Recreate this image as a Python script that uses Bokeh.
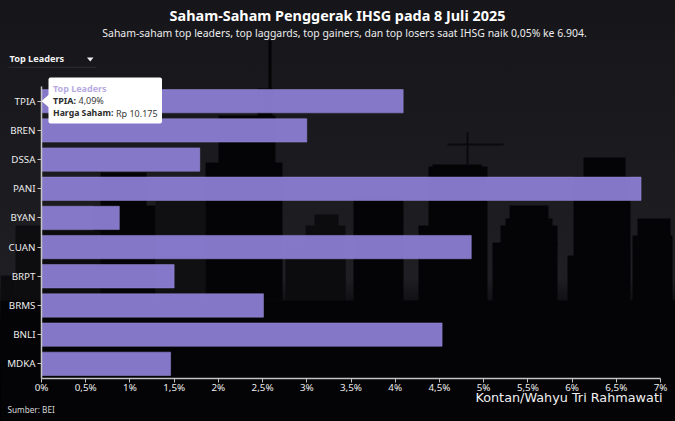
from bokeh.embed import file_html
from bokeh.resources import INLINE
from bokeh.plotting import figure
from bokeh.models import (BoxAnnotation, Label, PolyAnnotation, FixedTicker, ColumnDataSource,
                          LinearAxis, Range1d)

# ---- data ----
tickers = ["TPIA", "BREN", "DSSA", "PANI", "BYAN", "CUAN", "BRPT", "BRMS", "BNLI", "MDKA"]
changes = [4.09, 3.00, 1.79, 6.78, 0.88, 4.86, 1.50, 2.51, 4.53, 1.46]
x_ticks = [0, 0.5, 1, 1.5, 2, 2.5, 3, 3.5, 4, 4.5, 5, 5.5, 6, 6.5, 7]
x_tick_labels = ["0%", "0,5%", "1%", "1,5%", "2%", "2,5%", "3%", "3,5%", "4%", "4,5%",
                 "5%", "5,5%", "6%", "6,5%", "7%"]
title = "Saham-Saham Penggerak IHSG pada 8 Juli 2025"
subtitle = "Saham-saham top leaders, top laggards, top gainers, dan top losers saat IHSG naik 0,05% ke 6.904."

W, H = 675, 421
# plot geometry in pixels: the frame fills the canvas so texts may sit anywhere on it
X0_PX, PX_PER_PCT = 41.0, 88.43
Y0_PX, PX_PER_ROW = 100.7, 29.18

positions = list(range(len(tickers)))

p = figure(width=W, height=H, output_backend="svg", toolbar_location=None,
           x_range=Range1d(-X0_PX / PX_PER_PCT, (W - X0_PX) / PX_PER_PCT),
           y_range=Range1d((H - Y0_PX) / PX_PER_ROW, -Y0_PX / PX_PER_ROW),
           x_axis_type=None, y_axis_type=None,
           min_border=0, min_border_left=0, min_border_right=0, min_border_top=0, min_border_bottom=0)
p.background_fill_color = None
p.border_fill_color = None
p.outline_line_color = None
p.grid.visible = False

AX = "#c4c4c4"
xaxis = LinearAxis(fixed_location=positions[-1] + 0.5, bounds=(x_ticks[0], x_ticks[-1]),
                   ticker=FixedTicker(ticks=x_ticks),
                   major_label_overrides={t: l for t, l in zip(x_ticks, x_tick_labels)})
yaxis = LinearAxis(fixed_location=0, bounds=(positions[0] - 0.5, positions[-1] + 0.5),
                   ticker=FixedTicker(ticks=positions),
                   major_label_overrides={i: t for i, t in zip(positions, tickers)})
for ax in (xaxis, yaxis):
    ax.axis_line_color = AX
    ax.axis_line_width = 1.5
    ax.major_tick_line_color = AX
    ax.major_tick_in = 0
    ax.major_tick_out = 4
    ax.minor_tick_line_color = None
    ax.major_label_text_color = "#ececec"
    ax.major_label_text_font = "Noto Sans"
    ax.major_label_text_font_size = "9.8px"
xaxis.major_label_standoff = -1
yaxis.major_label_standoff = 2
p.add_layout(xaxis, "below")
p.add_layout(yaxis, "left")

# ---- skyline backdrop (decorative, pixels: x0, top, x1, bottom, colour) ----
DK = "#040406"
MD = "#0c0c0f"
skyline = [
    (155, 200, 205, 300, "#101013"),
    (285, 240, 345, 340, MD),
    (305, 225, 345, 300, MD),
    (314, 214, 338, 240, MD),
    (15, 225, 40, 300, "#0d0d10"),
    (0, 275, 15, 340, MD),
    (353, 195, 403, 340, DK),
    (418, 225, 430, 340, DK),
    (428, 166, 487, 340, DK),
    (432, 164, 481, 170, DK),
    (466, 132, 468, 165, "#0a0a0d"),
    (447, 143, 503, 145, "#0a0a0d"),
    (492, 242, 557, 340, DK),
    (500, 225, 557, 245, DK),
    (505, 218, 552, 226, DK),
    (509, 205, 548, 219, DK),
    (567, 255, 630, 340, DK),
    (573, 176, 630, 256, DK),
    (583, 157, 625, 177, DK),
    (632, 235, 672, 340, DK),
    (637, 218, 670, 236, DK),
    (100, 172, 146, 300, DK),
    (93, 205, 155, 300, DK),
    (40, 230, 100, 300, MD),
    (205, 162, 282, 300, DK),
    (218, 115, 275, 163, DK),
    (257, 88, 272, 116, DK),
    (268, 40, 271, 89, DK),
    (0, 300, 675, 421, DK),
]


def box(x0, top, x1, bot, col, level="annotation", alpha=1, **kw):
    p.add_layout(BoxAnnotation(left=x0, right=x1, top=top, bottom=bot,
                               left_units="canvas", right_units="canvas",
                               top_units="canvas", bottom_units="canvas",
                               fill_color=col, fill_alpha=alpha, line_alpha=0, level=level,
                               editable=False, **kw))


for x0, top, x1, bot, col in skyline:
    box(x0, top, x1, bot, col, level="underlay")

# ---- bars ----
src = ColumnDataSource(dict(y=positions, change=changes))
p.hbar(y="y", right="change", left=0, height=0.8, source=src,
       fill_color="#8c7dd3", fill_alpha=0.95, line_color="#9b8ddc", line_alpha=0.5, line_width=1)


def text(x, y, s, size, color="#ffffff", bold=False, align="left", font="Noto Sans", baseline="middle"):
    p.add_layout(Label(x=x, y=y, x_units="canvas", y_units="canvas", text=s,
                       text_font=font, text_font_size=f"{size}px", text_color=color,
                       text_font_style="bold" if bold else "normal", text_align=align,
                       text_baseline=baseline))


text(337, 14.5, title, 14.4, bold=True, align="center")
text(344, 32.5, subtitle, 10.45, color="#ececec", align="center")

# dropdown
text(9, 58.3, "Top Leaders", 9.2, bold=True, color="#f2f2f2")
p.add_layout(PolyAnnotation(xs=[86.5, 93, 89.7], ys=[57, 57, 61], xs_units="canvas", ys_units="canvas",
                            fill_color="#f0f0f0", fill_alpha=1, line_alpha=0, editable=False))
box(8, 66.3, 96, 67.3, "#2c2c32")

# tooltip
box(48, 77, 161.5, 123, "#ffffff", border_radius=2)
p.add_layout(PolyAnnotation(xs=[48.5, 41, 48.5], ys=[94, 100.5, 107], xs_units="canvas", ys_units="canvas",
                            fill_color="#ffffff", fill_alpha=1, line_alpha=0, editable=False))
text(52.5, 87.5, "Top Leaders", 9, bold=True, color="#b7abe2")
text(52.5, 100, "TPIA:", 9, bold=True, color="#2b2b2b")
text(78, 100, "4,09%", 9, color="#3a3a3a")
text(52.5, 112.5, "Harga Saham:", 8.7, bold=True, color="#2b2b2b")
text(115.5, 112.5, "Rp 10.175", 9, color="#3a3a3a")

# footer
text(7, 408.5, "Sumber: BEI", 8.2, color="#d8d8d8")
text(662, 397, "Kontan/Wahyu Tri Rahmawati", 12.8, color="#f0f0f0", align="right", font="DejaVu Sans")

html = file_html(p, INLINE)
style = ("<style>html,body{height:100%;background:linear-gradient(180deg,#16161a 0%,#1f1e23 66%,"
         "#050507 76%,#000 100%) no-repeat;}</style>")
html = html.replace("</head>", style + "</head>", 1)
open("out.html", "w").write(html)
